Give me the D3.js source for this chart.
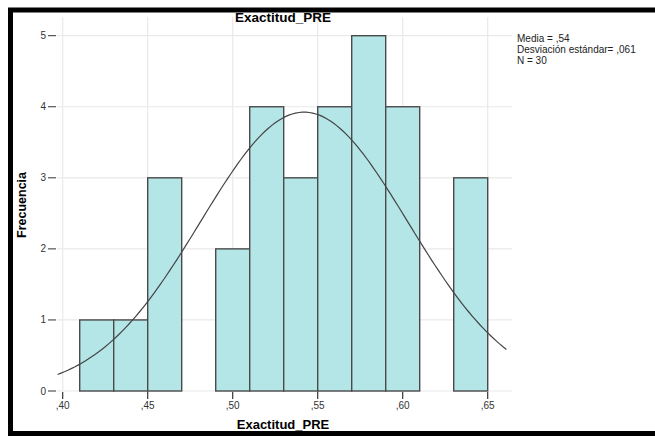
<!DOCTYPE html>
<html>
<head>
<meta charset="utf-8">
<script src="https://cdn.jsdelivr.net/npm/d3@7"></script>
<style>
  body { margin: 0; background: #fff; }
  text { font-family: "Liberation Sans", Arial, sans-serif; }
</style>
</head>
<body>
<div id="chart"></div>
<script>
// histogram bins (lower edge) and their counts
var binStarts = [0.41, 0.43, 0.45, 0.49, 0.51, 0.53, 0.55, 0.57, 0.59, 0.63];
var counts    = [1,    1,    3,    2,    4,    3,    4,    5,    4,    3];
var binWidth = 0.02;

var xTicks = [0.40, 0.45, 0.50, 0.55, 0.60, 0.65];
var xTickLabels = [",40", ",45", ",50", ",55", ",60", ",65"];
var yTicks = [0, 1, 2, 3, 4, 5];

// stats shown in the legend, also used for the normal curve
var mean = 0.542, sd = 0.061, n = 30;
var statLines = ["Media = ,54", "Desviación estándar= ,061", "N = 30"];

var width = 655, height = 436;
var svg = d3.select("#chart").append("svg")
    .attr("width", width)
    .attr("height", height);

// black frame round the whole thing
svg.append("rect")
  .attr("x", 10.5).attr("y", 10).attr("width", 700).attr("height", 423.5)
  .attr("fill", "none").attr("stroke", "#000").attr("stroke-width", 5);

var plot = {left: 57, right: 512, top: 17, bottom: 391};

var x = d3.scaleLinear().domain([0.40, 0.65]).range([62.7, 487.7]);
var y = d3.scaleLinear().domain([0, 5]).range([plot.bottom, 35.7]);

// gridlines
svg.append("g").selectAll("line.vg").data(xTicks).enter().append("line")
  .attr("x1", function(d){ return x(d); }).attr("x2", function(d){ return x(d); })
  .attr("y1", plot.top).attr("y2", plot.bottom)
  .attr("stroke", "#e9e9e9").attr("stroke-width", 1.2);
svg.append("g").selectAll("line.hg").data(yTicks).enter().append("line")
  .attr("x1", plot.left).attr("x2", plot.right)
  .attr("y1", function(d){ return y(d); }).attr("y2", function(d){ return y(d); })
  .attr("stroke", "#e9e9e9").attr("stroke-width", 1.2);

// bars
svg.append("g").selectAll("rect").data(binStarts).enter().append("rect")
  .attr("x", function(d){ return x(d); })
  .attr("y", function(d, i){ return y(counts[i]); })
  .attr("width", function(d){ return x(d + binWidth) - x(d); })
  .attr("height", function(d, i){ return y(0) - y(counts[i]); })
  .attr("fill", "#b4e5e7")
  .attr("stroke", "#4a4a4a")
  .attr("stroke-width", 1.4);

// normal curve scaled to the histogram
var curvePts = d3.range(0.397, 0.6625, 0.002).map(function(v){
  var z = (v - mean) / sd;
  return [v, n * binWidth / (sd * Math.sqrt(2 * Math.PI)) * Math.exp(-0.5 * z * z)];
});
svg.append("path")
  .datum(curvePts)
  .attr("fill", "none")
  .attr("stroke", "#444")
  .attr("stroke-width", 1.2)
  .attr("d", d3.line().x(function(d){ return x(d[0]); }).y(function(d){ return y(d[1]); }));

// y axis ticks
var yAxis = svg.append("g");
yAxis.selectAll("line").data(yTicks).enter().append("line")
  .attr("x1", 48).attr("x2", 56)
  .attr("y1", function(d){ return y(d); }).attr("y2", function(d){ return y(d); })
  .attr("stroke", "#333").attr("stroke-width", 1);
yAxis.selectAll("text").data(yTicks).enter().append("text")
  .attr("x", 46).attr("y", function(d){ return y(d) + 3.5; })
  .attr("text-anchor", "end")
  .attr("font-size", 10).attr("fill", "#333")
  .text(function(d){ return d; });

// x axis ticks
var xAxis = svg.append("g");
xAxis.selectAll("line").data(xTicks).enter().append("line")
  .attr("x1", function(d){ return x(d); }).attr("x2", function(d){ return x(d); })
  .attr("y1", 392).attr("y2", 399)
  .attr("stroke", "#333").attr("stroke-width", 1.2);
xAxis.selectAll("text").data(xTicks).enter().append("text")
  .attr("x", function(d){ return x(d); }).attr("y", 409)
  .attr("text-anchor", "middle")
  .attr("font-size", 10).attr("fill", "#333")
  .text(function(d, i){ return xTickLabels[i]; });

// titles
svg.append("text").attr("x", 283).attr("y", 22)
  .attr("text-anchor", "middle").attr("font-size", 13.5).attr("font-weight", "bold")
  .text("Exactitud_PRE");
svg.append("text").attr("x", 283).attr("y", 429)
  .attr("text-anchor", "middle").attr("font-size", 13).attr("font-weight", "bold")
  .text("Exactitud_PRE");
svg.append("text")
  .attr("transform", "translate(26,205) rotate(-90)")
  .attr("text-anchor", "middle").attr("font-size", 12.5).attr("font-weight", "bold")
  .text("Frecuencia");

// stats box
svg.append("g").selectAll("text").data(statLines).enter().append("text")
  .attr("x", 517).attr("y", function(d, i){ return 42 + i * 11; })
  .attr("font-size", 10).attr("fill", "#222")
  .text(function(d){ return d; });
</script>
</body>
</html>
